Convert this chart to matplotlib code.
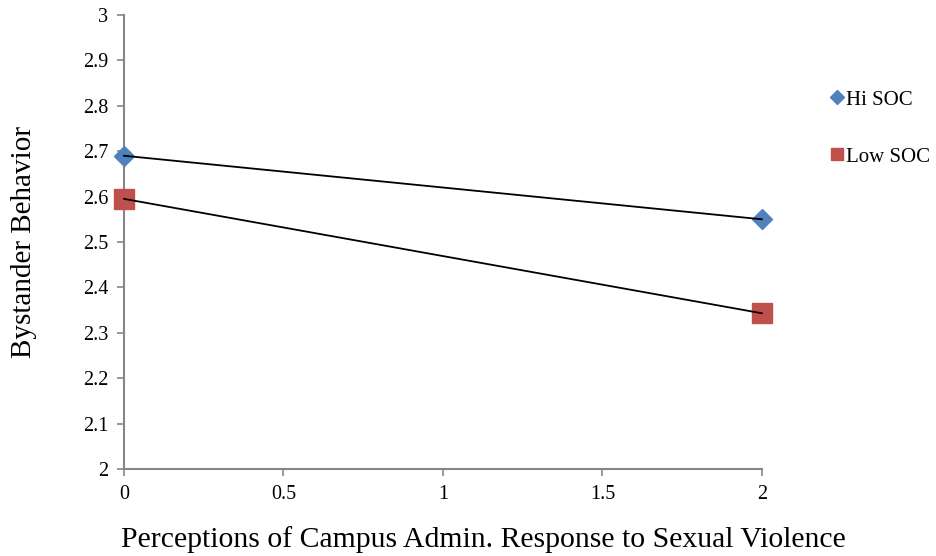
import matplotlib.pyplot as plt
from matplotlib.lines import Line2D

plt.rcParams['font.family'] = ['Liberation Serif', 'DejaVu Serif']

# data
x_levels = [0, 2]
hi_soc = [2.69, 2.55]
low_soc = [2.595, 2.343]
series_names = ["Hi SOC", "Low SOC"]
x_ticks = [0, 0.5, 1, 1.5, 2]
x_tick_labels = ["0", "0.5", "1", "1.5", "2"]
y_ticks = [2, 2.1, 2.2, 2.3, 2.4, 2.5, 2.6, 2.7, 2.8, 2.9, 3]
y_tick_labels = ["2", "2.1", "2.2", "2.3", "2.4", "2.5", "2.6", "2.7", "2.8", "2.9", "3"]

blue = "#4F81BD"
red = "#C0504D"
grey = "#868686"

fig = plt.figure(figsize=(9.36, 5.56), dpi=100)
ax = fig.add_axes([0.1325, 0.1565, 0.6815, 0.8165])

# markers first, then the black lines over them
ax.plot(x_levels, hi_soc, linestyle="none", marker="D", markersize=9.7,
        color=blue, clip_on=False, zorder=3)
ax.plot(x_levels, low_soc, linestyle="none", marker="s", markersize=14.5,
        color=red, clip_on=False, zorder=3)
ax.plot(x_levels, hi_soc, color="black", linewidth=1.3, clip_on=False, zorder=4)
ax.plot(x_levels, low_soc, color="black", linewidth=1.3, clip_on=False, zorder=4)

ax.set_xlim(0, 2)
ax.set_ylim(2, 3)
ax.set_xticks(x_ticks)
ax.set_xticklabels(x_tick_labels)
ax.set_yticks(y_ticks)
ax.set_yticklabels(y_tick_labels)

for side in ["top", "right"]:
    ax.spines[side].set_visible(False)
for side in ["left", "bottom"]:
    ax.spines[side].set_color(grey)
    ax.spines[side].set_linewidth(1.5)

ax.tick_params(axis="both", direction="out", length=5, width=1.2, color=grey,
               labelsize=14.5, pad=6.5)

ax.set_xlabel("Perceptions of Campus Admin. Response to Sexual Violence",
              fontsize=21.4, labelpad=16)
ax.xaxis.label.set_x(0.564)  # label sits right of the axes centre
ax.set_ylabel("Bystander Behavior", fontsize=21, labelpad=33)

handles = [
    Line2D([], [], linestyle="none", marker="D", markersize=7, color=blue),
    Line2D([], [], linestyle="none", marker="s", markersize=8, color=red),
]
fig.legend(handles, series_names, loc="upper left", bbox_to_anchor=(0.867, 0.872),
           frameon=False, fontsize=15, handlelength=0.6, handletextpad=0.15,
           labelspacing=1.8)

fig.savefig("out.png", dpi=100)
